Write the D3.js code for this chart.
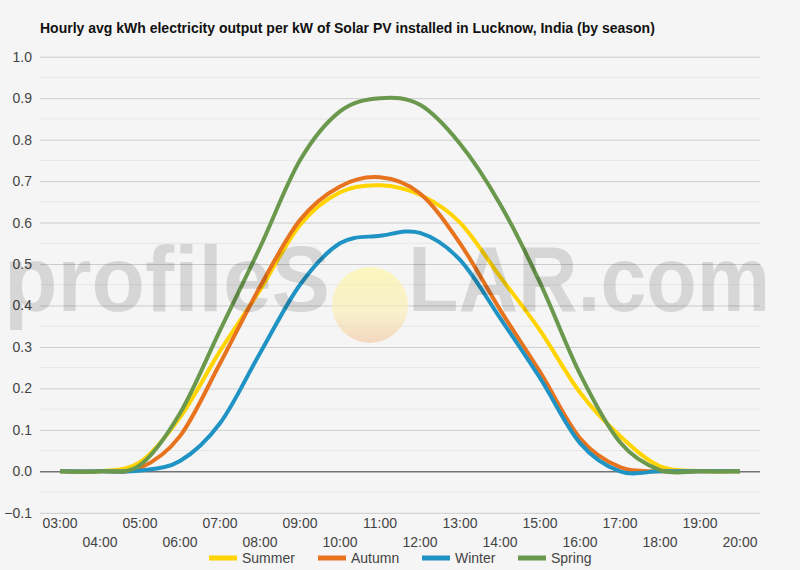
<!DOCTYPE html>
<html>
<head>
<meta charset="utf-8">
<script src="https://cdn.jsdelivr.net/npm/d3@7"></script>
<style>
  html, body { margin: 0; padding: 0; background: #f5f5f5; }
  svg { display: block; font-family: Arial, "Liberation Sans", sans-serif; }
</style>
</head>
<body>
<svg id="chart" width="800" height="570"></svg>
<script>
const title = "Hourly avg kWh electricity output per kW of Solar PV installed in Lucknow, India (by season)";
const hours = ["03:00","04:00","05:00","06:00","07:00","08:00","09:00","10:00","11:00","12:00","13:00","14:00","15:00","16:00","17:00","18:00","19:00","20:00"];
const seriesNames = ["Summer","Autumn","Winter","Spring"];
const seriesColors = ["#ffd400","#e8731e","#1f93c3","#6a994e"];
const summer = [0, 0, 0.022, 0.13, 0.29, 0.437, 0.594, 0.673, 0.69, 0.667, 0.60, 0.47, 0.34, 0.19, 0.085, 0.012, 0.001, 0];
const autumn = [0, 0, 0.008, 0.085, 0.26, 0.445, 0.606, 0.687, 0.709, 0.67, 0.55, 0.39, 0.24, 0.08, 0.01, 0, 0, 0];
const winter = [0, 0, 0.002, 0.025, 0.116, 0.285, 0.45, 0.55, 0.568, 0.575, 0.51, 0.37, 0.225, 0.068, 0.0, 0, 0, 0];
const spring = [0, 0, 0.015, 0.14, 0.34, 0.54, 0.75, 0.868, 0.90, 0.884, 0.79, 0.645, 0.455, 0.235, 0.07, 0.003, 0, 0];
const yTicks = [-0.1, 0.0, 0.1, 0.2, 0.3, 0.4, 0.5, 0.6, 0.7, 0.8, 0.9, 1.0];
const yMinorTicks = [-0.05, 0.05, 0.15, 0.25, 0.35, 0.45, 0.55, 0.65, 0.75, 0.85, 0.95];

const allSeries = [summer, autumn, winter, spring];

(function () {
const svg = d3.select("#chart");
const pLeft = 40, pRight = 760, pTop = 56.7, pBottom = 512.8;

svg.append("rect").attr("width", 800).attr("height", 570).attr("fill", "#f5f5f5");

const x = d3.scalePoint().domain(hours).range([pLeft, pRight]).padding(0.5);
const y = d3.scaleLinear().domain([-0.1, 1.0]).range([pBottom, pTop]);

// minor gridlines
svg.append("g").selectAll("line").data(yMinorTicks).join("line")
  .attr("x1", pLeft).attr("x2", pRight)
  .attr("y1", d => y(d)).attr("y2", d => y(d))
  .attr("stroke", "#e6e6e6").attr("stroke-width", 1);

// major gridlines + labels via axis
const yAxis = d3.axisLeft(y).tickValues(yTicks).tickFormat(d3.format(".1f")).tickSize(-(pRight - pLeft)).tickPadding(8);
const gy = svg.append("g").attr("transform", `translate(${pLeft},0)`).call(yAxis);
gy.select(".domain").remove();
gy.selectAll(".tick line").attr("stroke", d => Math.abs(d) < 1e-9 ? "#333" : "#cccccc").attr("stroke-width", 1);
gy.selectAll(".tick text").attr("fill", "#444").attr("font-size", 14).attr("font-family", "Arial, 'Liberation Sans', sans-serif")
  .attr("x", -8);

// x labels staggered
const xAxisG = svg.append("g");
xAxisG.selectAll("text").data(hours).join("text")
  .attr("x", d => x(d))
  .attr("y", (d, i) => i % 2 === 0 ? 528 : 547)
  .attr("text-anchor", "middle")
  .attr("font-size", 14)
  .attr("fill", "#444")
  .text(d => d);

// lines
const line = d3.line()
  .x((d, i) => x(hours[i]))
  .y(d => y(d))
  .curve(d3.curveCatmullRom.alpha(0));

const order = [0, 1, 2, 3];
svg.append("g").selectAll("path").data(order).join("path")
  .attr("d", i => line(allSeries[i]))
  .attr("fill", "none")
  .attr("stroke", i => seriesColors[i])
  .attr("stroke-width", 4)
  .attr("stroke-linejoin", "round")
  .attr("stroke-linecap", "butt");

// watermark
const defs = svg.append("defs");
const grad = defs.append("linearGradient").attr("id", "sun").attr("x1", 0).attr("y1", 0).attr("x2", 0).attr("y2", 1);
grad.append("stop").attr("offset", "0%").attr("stop-color", "#fff59a");
grad.append("stop").attr("offset", "60%").attr("stop-color", "#fbeeb0");
grad.append("stop").attr("offset", "100%").attr("stop-color", "#f3c39c");
const wm = svg.append("g").attr("pointer-events", "none");
wm.append("circle").attr("cx", 370).attr("cy", 305).attr("r", 38)
  .attr("fill", "url(#sun)").attr("opacity", 0.6);
wm.append("text").attr("x", 4).attr("y", 311)
  .attr("font-size", 92).attr("font-weight", "bold").attr("fill", "#000").attr("opacity", 0.12)
  .attr("textLength", 326).attr("lengthAdjust", "spacingAndGlyphs")
  .text("profileS");
wm.append("text").attr("x", 408).attr("y", 311)
  .attr("font-size", 92).attr("font-weight", "bold").attr("fill", "#000").attr("opacity", 0.12)
  .attr("textLength", 362).attr("lengthAdjust", "spacingAndGlyphs")
  .text("LAR.com");

// title
svg.append("text").attr("x", 40).attr("y", 33)
  .attr("font-size", 14).attr("font-weight", "bold").attr("fill", "#111")
  .text(title);

// legend
const legendX = [209, 318, 422, 518];
const lg = svg.append("g").selectAll("g").data(seriesNames).join("g")
  .attr("transform", (d, i) => `translate(${legendX[i]},558)`);
lg.append("rect").attr("x", 0).attr("y", -2.5).attr("width", 28).attr("height", 5)
  .attr("fill", (d, i) => seriesColors[i]);
lg.append("text").attr("x", 33).attr("y", 5).attr("font-size", 14).attr("fill", "#444").text(d => d);
})();
</script>
</body>
</html>
